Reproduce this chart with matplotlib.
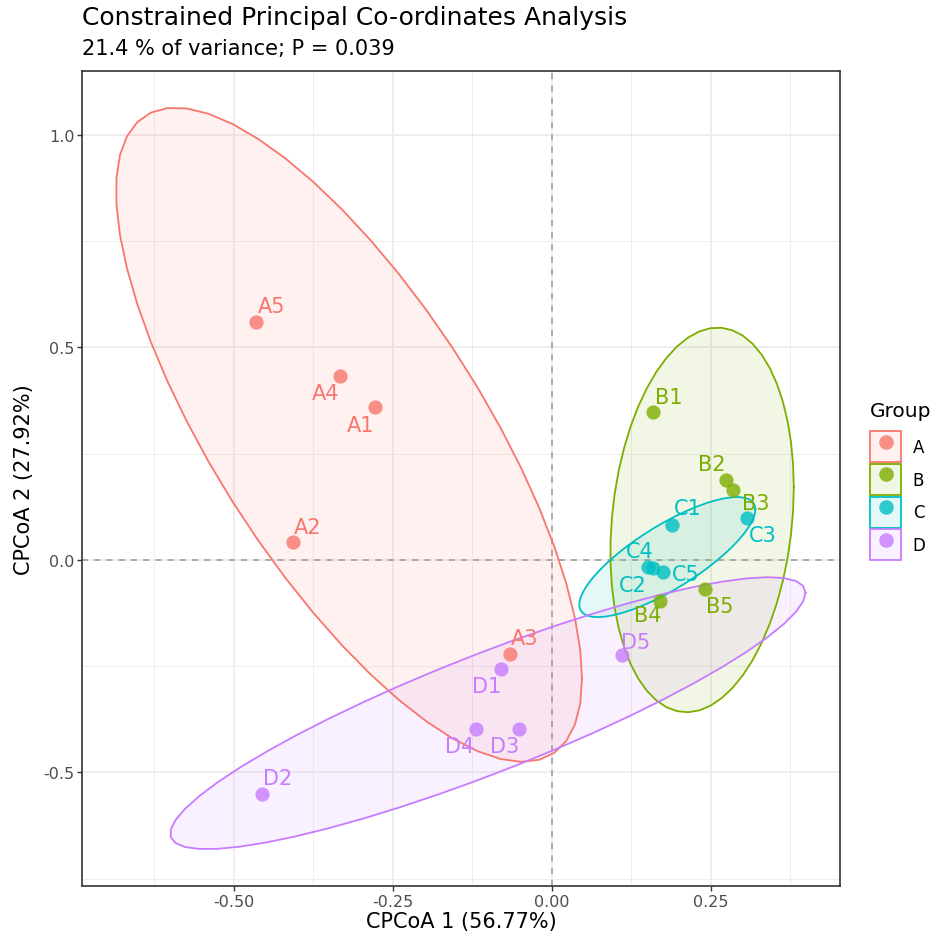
import numpy as np
import matplotlib
matplotlib.use("Agg")
import matplotlib.pyplot as plt
from matplotlib.patches import Patch
from matplotlib.lines import Line2D
from matplotlib.legend_handler import HandlerTuple

# sample scores on the first two constrained axes
labels = ['A1', 'A2', 'A3', 'A4', 'A5',
          'B1', 'B2', 'B3', 'B4', 'B5',
          'C1', 'C2', 'C3', 'C4', 'C5',
          'D1', 'D2', 'D3', 'D4', 'D5']
groups = ['A'] * 5 + ['B'] * 5 + ['C'] * 5 + ['D'] * 5
cpcoa1 = [-0.277, -0.407, -0.066, -0.332, -0.465,
          0.160, 0.275, 0.285, 0.171, 0.241,
          0.189, 0.160, 0.308, 0.151, 0.175,
          -0.079, -0.456, -0.052, -0.119, 0.110]
cpcoa2 = [0.359, 0.042, -0.221, 0.432, 0.559,
          0.347, 0.188, 0.164, -0.096, -0.068,
          0.082, -0.019, 0.099, -0.016, -0.028,
          -0.256, -0.552, -0.397, -0.399, -0.225]

group_names = ['A', 'B', 'C', 'D']
group_colors = ['#F8766D', '#7CAE00', '#00BFC4', '#C77CFF']

# label offsets in pixels (like ggrepel placement)
label_offsets = {
    'A1': (-15, -18), 'A2': (15, 15), 'A3': (15, 16), 'A4': (-15, -17), 'A5': (16, 16),
    'B1': (15, 15), 'B2': (-15, 16), 'B3': (23, -13), 'B4': (-13, -14), 'B5': (15, -17),
    'C1': (16, 17), 'C2': (-21, -17), 'C3': (15, -17), 'C4': (-8, 16), 'C5': (23, -2),
    'D1': (-15, -17), 'D2': (16, 16), 'D3': (-14, -17), 'D4': (-16, -17), 'D5': (14, 13),
}


def cov_trob(x, nu=5, maxit=25, tol=0.01):
    n, p = x.shape
    wt = np.ones(n)
    loc = x.mean(axis=0)
    w = np.sqrt(wt)
    for it in range(maxit):
        w0 = w
        X = x - loc
        u, d, vt = np.linalg.svd(np.sqrt(w / w.sum())[:, None] * X, full_matrices=False)
        wX = X @ vt.T @ np.diag(1 / d)
        Q = (wX ** 2).sum(axis=1)
        w = (wt * (nu + p)) / (nu + Q)
        loc = (w[:, None] * x).sum(axis=0) / w.sum()
        if np.all(np.abs(w - w0) < tol):
            break
    cov = (np.sqrt(w)[:, None] * X).T @ (np.sqrt(w)[:, None] * X) / wt.sum()
    return loc, cov


def ellipse_path(x, level=0.9, segments=51):
    loc, cov = cov_trob(x)
    dfd = x.shape[0] - 1
    fq = dfd / 2 * ((1 - level) ** (-2 / dfd) - 1)
    radius = np.sqrt(2 * fq)
    R = np.linalg.cholesky(cov).T
    ang = np.linspace(0, 2 * np.pi, segments + 1)
    circ = np.column_stack([np.cos(ang), np.sin(ang)])
    return loc + radius * (circ @ R)


xs = np.array(cpcoa1)
ys = np.array(cpcoa2)
g = np.array(groups)

fig = plt.figure(figsize=(9.32, 9.37), dpi=100)
ax = fig.add_axes([82 / 932, 50 / 937, 758 / 932, 815 / 937])

ells = []
for name, col in zip(group_names, group_colors):
    m = g == name
    e = ellipse_path(np.column_stack([xs[m], ys[m]]))
    ells.append(e)
    ax.fill(e[:, 0], e[:, 1], color=col, alpha=0.1, lw=0, zorder=2)
    ax.plot(e[:, 0], e[:, 1], color=col, lw=1.3, zorder=3)

allx = np.concatenate([e[:, 0] for e in ells] + [xs])
ally = np.concatenate([e[:, 1] for e in ells] + [ys])
rx = allx.max() - allx.min()
ry = ally.max() - ally.min()
ax.set_xlim(allx.min() - 0.05 * rx, allx.max() + 0.05 * rx)
ax.set_ylim(ally.min() - 0.05 * ry, ally.max() + 0.05 * ry)

ax.axvline(0, color='#999999', ls=(0, (4, 4)), lw=1.1, zorder=1.5)
ax.axhline(0, color='#999999', ls=(0, (4, 4)), lw=1.1, zorder=1.5)

for name, col in zip(group_names, group_colors):
    m = g == name
    ax.scatter(xs[m], ys[m], s=105, color=col, alpha=0.8, lw=0, zorder=4)

for lab, x, y, grp in zip(labels, xs, ys, groups):
    col = group_colors[group_names.index(grp)]
    ax.annotate(lab, (x, y), xytext=label_offsets[lab], textcoords='offset pixels',
                ha='center', va='center', fontsize=15, color=col, zorder=5)

ax.set_xticks([-0.5, -0.25, 0.0, 0.25])
ax.set_xticklabels(['-0.50', '-0.25', '0.00', '0.25'])
ax.set_yticks([-0.5, 0.0, 0.5, 1.0])
ax.set_yticklabels(['-0.5', '0.0', '0.5', '1.0'])
ax.set_xticks([-0.625, -0.375, -0.125, 0.125, 0.375], minor=True)
ax.set_yticks([-0.75, -0.25, 0.25, 0.75], minor=True)
ax.grid(True, which='major', color='#EBEBEB', lw=1.2, zorder=0)
ax.grid(True, which='minor', color='#EBEBEB', lw=0.6, zorder=0)
ax.set_axisbelow(True)
ax.tick_params(which='major', length=3.5, pad=2, color='#333333', labelsize=11.5,
               labelcolor='#4D4D4D', width=1)
ax.tick_params(which='minor', length=0)
for s in ax.spines.values():
    s.set_color('#333333')
    s.set_linewidth(1.2)

ax.set_xlabel('CPCoA 1 (56.77%)', fontsize=15, labelpad=2)
ax.set_ylabel('CPCoA 2 (27.92%)', fontsize=15, labelpad=7)

fig.text(82 / 932, 1 - 18 / 937, 'Constrained Principal Co-ordinates Analysis',
         fontsize=18, ha='left', va='center')
fig.text(82 / 932, 1 - 49 / 937, '21.4 % of variance; P = 0.039',
         fontsize=15, ha='left', va='center')

handles = [(Patch(facecolor=col, alpha=0.1, edgecolor='none'),
            Patch(facecolor='none', edgecolor=col, lw=1.3),
            Line2D([], [], marker='o', ls='', color=col, alpha=0.8, markersize=10.5, mec='none'))
           for col in group_colors]
leg = fig.legend(handles, group_names, title='Group', loc='upper left',
                 bbox_to_anchor=(862 / 932, 1 - 394 / 937), frameon=False,
                 handler_map={tuple: HandlerTuple(ndivide=1, pad=0)},
                 handlelength=1.85, handleheight=2.48, handletextpad=0.7,
                 labelspacing=0.1, fontsize=12, title_fontsize=14.5, borderpad=0)
leg._legend_box.align = 'left'
leg._legend_box.sep = 8

fig.savefig('out.png', dpi=100)
